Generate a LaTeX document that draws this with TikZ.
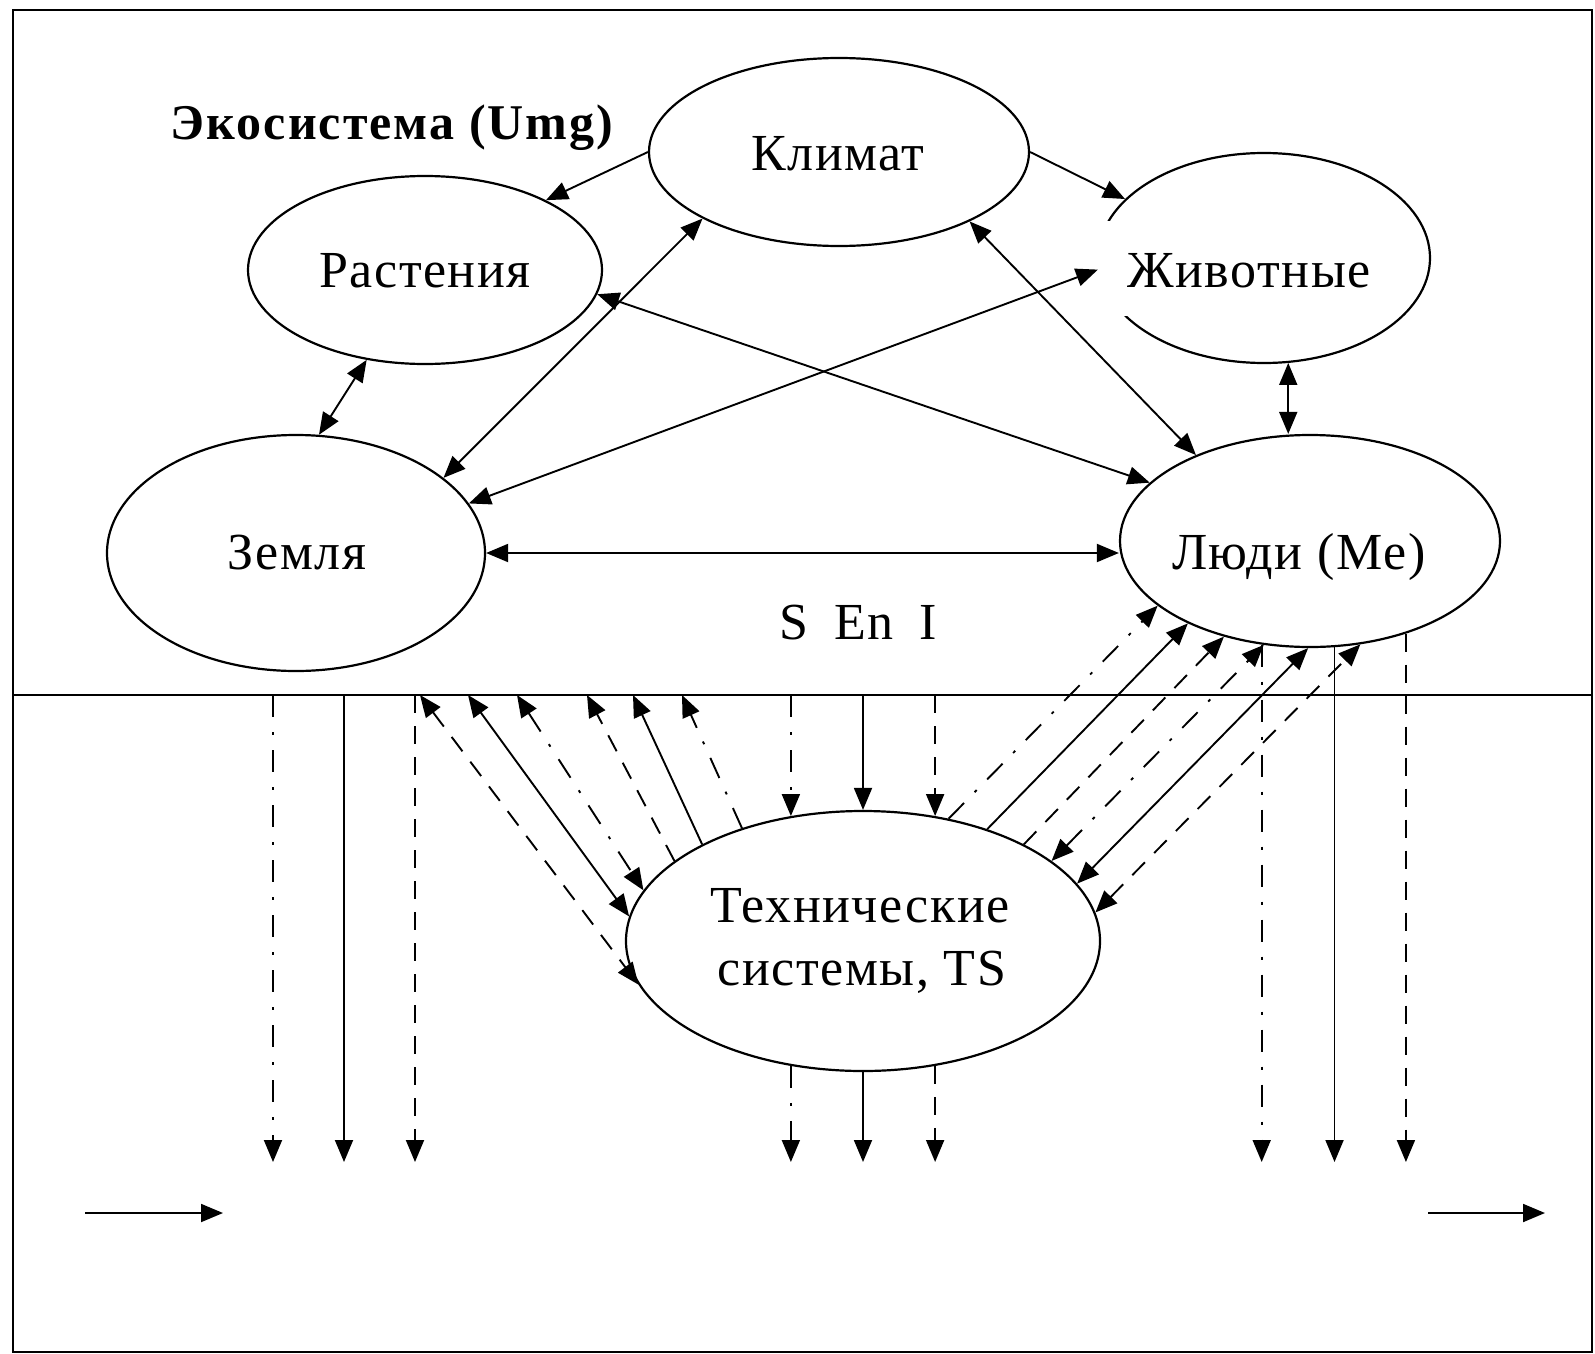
\documentclass[tikz,border=0pt]{standalone}
\usepackage{fontspec}
\setmainfont{Liberation Serif}
\usetikzlibrary{shapes.geometric,arrows.meta}
\begin{document}
\begin{tikzpicture}[x=1pt,y=-1pt,
  >={Triangle[length=22pt,width=18pt]},
  ell/.style={draw,ellipse,line width=2.2pt,inner sep=0pt},
  lbl/.style={font=\fontsize{52}{62}\selectfont\addfontfeature{LetterSpace=3},inner sep=0pt,anchor=base},
  con/.style={line width=1.9pt},
  dsh/.style={con,dash pattern=on 18pt off 13pt},
  ddot/.style={con,dash pattern=on 22pt off 15pt on 3pt off 15pt}]
\useasboundingbox (0,0) rectangle (1595,1354);
\draw[line width=2.5pt] (13,10) rectangle (1592,1352);

% ellipses
\node[ell,minimum width=380pt,minimum height=188pt] (klim) at (839,152) {};
\node[ell,minimum width=354pt,minimum height=188pt] (rast) at (425,270) {};
\node[ell,minimum width=332pt,minimum height=210pt] (zhiv) at (1264,258) {};
\node[ell,minimum width=378pt,minimum height=236pt] (zem) at (296,553) {};
\node[ell,minimum width=380pt,minimum height=212pt] (lyud) at (1310,541) {};
\node[ell,minimum width=474pt,minimum height=260pt] (tech) at (863,941) {};

% labels
\node[font=\bfseries\fontsize{50}{58}\selectfont\addfontfeature{LetterSpace=4},inner sep=0pt,anchor=base] (title) at (392,139) {Экосистема (Umg)};
\node[lbl] (tklim) at (838,170) {Климат};
\node[lbl] (trast) at (425,287) {Растения};
\node[draw=none,fill=white,minimum width=300pt,minimum height=95pt,inner sep=0pt] (zbox) at (1246,268) {};
\node[lbl] (tzhiv) at (1249,287) {Животные};
\node[lbl] (tzem) at (297,569) {Земля};
\node[lbl] (tlyud) at (1299,569) {Люди (Me)};
\node[lbl] (ttech1) at (860,922) {Технические};
\node[lbl] (ttech2) at (862,985) {системы, TS};
\node[lbl] (sei) at (858,639) {S\hspace{26pt}En\hspace{26pt}I};

% upper connectors
\draw[con,->] (klim.180) -- (rast.30);
\draw[con,->] (klim.0) -- (zhiv.157);
\draw[con,<->] (rast.237) -- (zem.79);
\draw[con,<->] (klim.206) -- (zem.27.3);
\draw[con,<->] (zhiv.184) -- (zem.16.7);
\draw[con,<->] (rast.352.7) -- (lyud.160.2);
\draw[con,<->] (klim.332.6) -- (lyud.143.7);
\draw[con,<->] (zhiv.283) -- (zhiv.283 |- lyud.north);
\draw[con,<->] (zem.east) -- (zem.east -| lyud.west);

% divider
\coordinate (dl) at (13,695);
\coordinate (dr) at (1592,695);
\draw[line width=2pt] (dl) -- (dr);
\coordinate (bot) at (0,1162);

% left verticals
\coordinate (lv1) at (273,695);
\coordinate (lv2) at (344,695);
\coordinate (lv3) at (415,695);
\draw[ddot,->] (lv1) -- (lv1 |- bot);
\draw[con,->] (lv2) -- (lv2 |- bot);
\draw[dsh,->] (lv3) -- (lv3 |- bot);

% middle verticals
\draw[ddot,->] (tech.120 |- dl) -- (tech.120);
\draw[con,->] (tech.90 |- dl) -- (tech.90);
\draw[dsh,->] (tech.60 |- dl) -- (tech.60);
\draw[ddot,->] (tech.240) -- (tech.240 |- bot);
\draw[con,->] (tech.270) -- (tech.270 |- bot);
\draw[dsh,->] (tech.300) -- (tech.300 |- bot);

% right verticals
\draw[ddot,->] (lyud.245.4) -- (lyud.245.4 |- bot);
\draw[con,->] (lyud.283.4) -- (lyud.283.4 |- bot);
\draw[dsh,->] (lyud.316) -- (lyud.316 |- bot);

% left diagonals
\coordinate (d1) at (420,695);
\coordinate (d2) at (468,695);
\coordinate (d3) at (517,695);
\coordinate (d4) at (587,695);
\coordinate (d5) at (633,695);
\coordinate (d6) at (682,695);
\draw[dsh,<->] (d1) -- (tech.191);
\draw[con,<->] (d2) -- (tech.174.2);
\draw[ddot,<->] (d3) -- (tech.167.7);
\draw[dsh,->] (tech.157.1) -- (d4);
\draw[con,->] (tech.149.4) -- (d5);
\draw[ddot,->] (tech.137.7) -- (d6);

% right diagonals
\draw[ddot,->] (tech.55.2) -- (lyud.203.6);
\draw[con,->] (tech.42.3) -- (lyud.214.8);
\draw[dsh,->] (tech.31.9) -- (lyud.228.8);
\draw[ddot,<->] (tech.23.5) -- (lyud.246.4);
\draw[con,<->] (tech.15.6) -- (lyud.269.5);
\draw[dsh,<->] (tech.7.5) -- (lyud.296.4);

% bottom arrows
\coordinate (ba1) at (85,1213);
\coordinate (ba2) at (223,1213);
\coordinate (ba3) at (1428,1213);
\coordinate (ba4) at (1545,1213);
\draw[con,->] (ba1) -- (ba2);
\draw[con,->] (ba3) -- (ba4);
\end{tikzpicture}
\end{document}
